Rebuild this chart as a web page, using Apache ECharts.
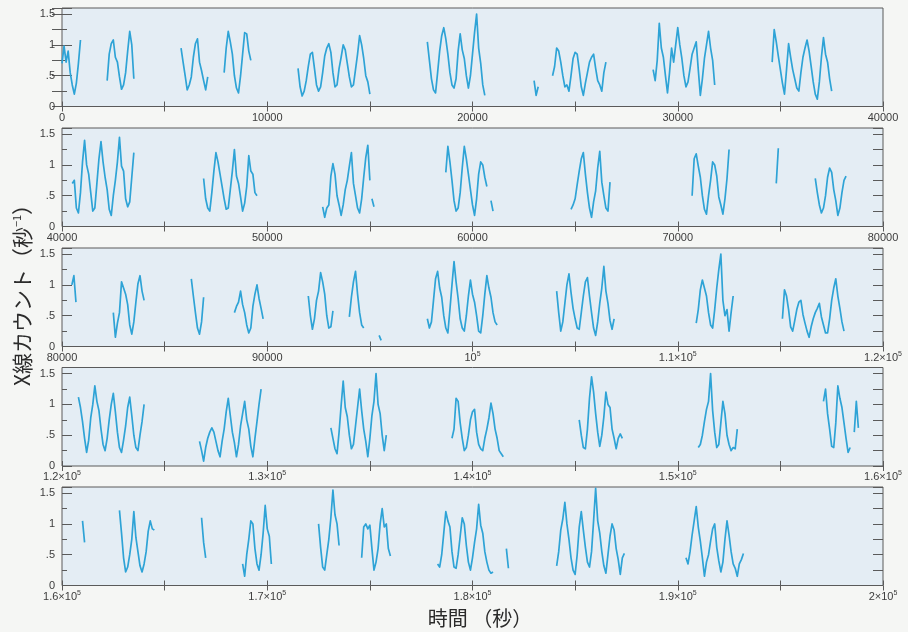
<!DOCTYPE html>
<html><head><meta charset="utf-8">
<script src="https://cdn.jsdelivr.net/npm/echarts@6/dist/echarts.min.js"></script>
<style>html,body{margin:0;padding:0;background:#f5f6f4;} #c{width:908px;height:632px;}</style>
</head><body><div id="c"></div>
<script>
// Light curve: count rate (s^-1) sampled every STEP seconds; each segment = [start time (s), values]
const STEP = 100;
const panel1 = [
  [0, [.7,.98,.72,.9,.55,.35,.2,.38,.7,1.08]],
  [2200, [.42,.85,1.02,1.08,.8,.72,.48,.28,.35,.55,.9,1.22,1.0,.45]],
  [5800, [.95,.72,.5,.27,.35,.48,.8,1.02,1.1,.72,.58,.42,.27,.48]],
  [7900, [.55,.95,1.22,1.05,.85,.5,.3,.22,.5,.85,1.2,1.18,.9,.75]],
  [11500, [.62,.32,.17,.25,.42,.65,.85,.88,.62,.35,.25,.32,.55,.82,.95,1.02,.88,.55,.32,.35,.62,.8,1.0,.92,.7,.48,.32,.35,.6,.85,1.15,1.0,.78,.5,.4,.2]],
  [17800, [1.05,.75,.45,.27,.22,.55,.9,1.15,1.28,1.1,.85,.55,.35,.3,.45,.9,1.18,.92,.78,.5,.3,.5,.85,1.2,1.5,.95,.7,.35,.18]],
  [23000, [.42,.18,.32]],
  [23900, [.5,.65,.95,.9,.72,.5,.32,.35,.25,.5,.78,.88,.85,.6,.32,.18,.38,.55,.72,.8,.85,.62,.42,.35,.25,.55,.72]],
  [28800, [.6,.42,.75,1.35,.95,.8,.5,.22,.55,.95,.72,1.0,1.28,1.0,.78,.5,.32,.4,.62,.85,.95,1.05,.6,.18,.45,.78,1.0,1.22,.95,.75,.35]],
  [34600, [.72,1.25,1.05,.82,.6,.38,.2,.6,1.02,.8,.6,.45,.3,.25,.55,.8,.95,1.08,.9,.65,.4,.2,.12,.4,.8,1.12,.85,.72,.45,.25]]
];
const panel2 = [
  [40500, [.7,.75,.3,.22,.55,1.05,1.4,1.0,.85,.55,.25,.3,.7,1.1,1.38,1.05,.8,.6,.28,.18,.5,.75,1.05,1.45,.98,.9,.45,.32,.4,.8,1.2]],
  [46900, [.78,.45,.3,.25,.55,.9,1.2,1.05,.85,.65,.45,.28,.3,.6,.9,1.25,.82,.7,.48,.25,.38,.65,1.15,.9,.85,.55,.5]],
  [52700, [.32,.15,.3,.35,.82,1.02,.85,.5,.35,.18,.35,.6,.75,.98,1.2,.7,.5,.3,.22,.45,.8,1.12,1.32,.75]],
  [55100, [.45,.32]],
  [58700, [.88,1.3,1.05,.75,.42,.25,.3,.55,.95,1.3,1.1,.85,.6,.35,.18,.45,.85,1.05,1.0,.8,.65]],
  [60900, [.42,.25]],
  [64800, [.28,.35,.45,.68,.9,1.1,1.2,.85,.55,.3,.15,.4,.58,.95,1.22,.72,.5,.3,.25,.72]],
  [70700, [.5,1.1,1.18,.98,.8,.5,.28,.2,.5,.75,1.05,1.0,.82,.48,.35,.2,.45,.78,1.25]],
  [74800, [.7,1.27]],
  [76700, [.78,.55,.35,.22,.3,.5,.8,.95,.88,.6,.42,.18,.3,.55,.75,.82]]
];
const panel3 = [
  [80480, [1.0,1.15,.72]],
  [82500, [.55,.15,.38,.55,1.05,.95,.85,.68,.35,.2,.4,.72,1.02,1.15,.9,.75]],
  [86300, [1.1,.82,.55,.3,.2,.4,.8]],
  [88400, [.55,.65,.72,.9,.68,.55,.35,.22,.3,.65,.85,1.0,.78,.62,.45]],
  [92000, [.82,.5,.28,.45,.75,.9,1.2,1.05,.85,.5,.3,.32,.58]],
  [94000, [.48,.8,1.05,1.22,.85,.55,.35,.3]],
  [95450, [.18,.1]],
  [97800, [.45,.3,.4,.75,1.1,1.22,.95,.8,.5,.3,.22,.6,1.0,1.38,1.05,.78,.45,.3,.25,.5,.82,1.08,.85,.72,.5,.25,.22,.5,.85,1.15,.95,.8,.55,.4,.35]],
  [104100, [.9,.55,.25,.4,.7,1.0,1.18,.88,.62,.45,.3,.28,.55,.82,1.05,1.12,.82,.55,.3,.18,.4,.7,.95,1.3,.9,.7,.42,.28,.45]],
  [110900, [.38,.6,.92,1.08,.95,.82,.55,.35,.3,.6,.95,1.25,1.5,.75,.5,.6,.25,.55,.82]],
  [115100, [.45,.92,.82,.6,.32,.25,.42,.6,.72,.75,.52,.38,.25,.15,.32,.45,.55,.62,.7,.48,.35,.22,.22,.45,.75,.95,1.1,.82,.62,.4,.25]]
];
const panel4 = [
  [120800, [1.12,.95,.72,.45,.22,.42,.78,1.0,1.3,1.05,.9,.6,.35,.25,.45,.75,1.0,1.18,.88,.55,.3,.22,.42,.65,.95,1.12,.82,.5,.3,.25,.5,.72,1.0]],
  [126700, [.4,.25,.08,.3,.45,.55,.62,.55,.4,.25,.15,.4,.6,.88,1.1,.82,.55,.38,.15,.35,.65,.85,1.05,.75,.6,.32,.15,.45,.72,1.0,1.25]],
  [133100, [.62,.45,.28,.2,.55,.98,1.38,.95,.8,.5,.28,.35,.65,.95,1.25,.9,.6,.4,.15,.45,.82,1.05,1.5,1.0,.85,.5,.25,.5]],
  [139000, [.45,.6,1.1,1.05,.7,.45,.25,.3,.5,.75,.88,.92,.55,.35,.28,.25,.45,.6,.78,1.02,.85,.6,.45,.25,.2,.15]],
  [145200, [.75,.5,.3,.28,.6,1.1,1.45,1.2,.85,.55,.32,.5,.8,1.2,1.0,.95,.6,.45,.28,.45,.52,.45]],
  [151000, [.3,.35,.5,.72,.92,1.05,1.5,.9,.55,.3,.35,.7,1.05,.85,.5,.35,.25,.3,.28,.6]],
  [157100, [1.05,1.25,.85,.6,.32,.3,.7,1.3,1.1,.95,.7,.45,.22,.3]],
  [158600, [.55,1.05,.62]]
];
const panel5 = [
  [161000, [1.05,.7]],
  [162800, [1.22,.85,.45,.22,.3,.5,.75,1.2,.78,.55,.32,.22,.35,.55,.88,1.05,.92,.9]],
  [166800, [1.1,.7,.45]],
  [168800, [.35,.15,.5,.75,1.05,1.0,.6,.35,.25,.5,.85,1.3,.92,.8,.35]],
  [172500, [1.0,.62,.3,.25,.5,.75,1.1,1.55,1.15,1.0,.65]],
  [174600, [.45,.95,1.0,.92,.98,.6,.25,.38,.6,1.0,1.25,.95,1.0,.6,.48]],
  [178300, [.35,.3,.5,.85,1.2,1.05,.95,.55,.3,.28,.5,.8,1.1,1.0,.65,.38,.25,.45,.7,.92,1.32,.98,.85,.55,.38,.25,.2,.22]],
  [181650, [.6,.28]],
  [184100, [.32,.55,.9,1.08,1.35,1.0,.75,.45,.25,.18,.5,.95,1.2,.9,.62,.38,.3,.55,1.05,1.58,1.05,.85,.55,.32,.2,.5,.8,1.0,.9,.6,.42,.18,.45,.52]],
  [190400, [.45,.35,.55,.82,1.05,1.28,.95,.72,.45,.15,.38,.5,.72,.92,1.0,.62,.4,.22,.38,.75,1.05,.82,.55,.35,.28,.15,.35,.42,.52]]
];
const panels = [panel1, panel2, panel3, panel4, panel5];
const panelStarts = [0, 40000, 80000, 120000, 160000];
const PANEL_SPAN = 40000;
const xTickLabels = [
  ['0', '10000', '20000', '30000', '40000'],
  ['40000', '50000', '60000', '70000', '80000'],
  ['80000', '90000', '10^5', '1.1×10^5', '1.2×10^5'],
  ['1.2×10^5', '1.3×10^5', '1.4×10^5', '1.5×10^5', '1.6×10^5'],
  ['1.6×10^5', '1.7×10^5', '1.8×10^5', '1.9×10^5', '2×10^5']
];
const yTickLabels = {'0': '0', '0.5': '.5', '1': '1', '1.5': '1.5'};
const yMax = 1.6;
const xTitle = '時間 （秒）';
const yTitle = 'X線カウント（秒{s|−1}）';

const FONT = 'Liberation Sans, Arial, sans-serif';
const CJK = '"Noto Sans CJK JP", sans-serif';
const LINE = '#2ea3d6';
const TXT = '#3c3c3c';
const tops = [8, 128, 248, 367.5, 487];
const H = 98.5;

function build(segs) {
  const out = [];
  segs.forEach(([s, vals]) => {
    vals.forEach((v, i) => out.push([s + i * STEP, v]));
    out.push([s + (vals.length - 1) * STEP + STEP / 2, null]);
  });
  return out;
}

const grid = [], xAxis = [], yAxis = [], series = [];
panels.forEach((segs, p) => {
  const t0 = panelStarts[p];
  grid.push({left: 62, right: 25, top: tops[p], height: H, show: true,
    backgroundColor: '#e4edf4', borderColor: '#5a5a5a', borderWidth: 1});
  xAxis.push({type: 'value', gridIndex: p, position: 'bottom', min: t0, max: t0 + PANEL_SPAN, interval: 5000,
    axisLine: {show: false}, splitLine: {show: false},
    axisTick: {inside: true, length: 5, lineStyle: {color: '#5a5a5a'}},
    axisLabel: {margin: 4, color: TXT, fontFamily: FONT, fontSize: 11, lineHeight: 14,
      showMinLabel: true, showMaxLabel: true,
      formatter: v => {
        const k = (v - t0) / 10000;
        if (Math.abs(k - Math.round(k)) > 1e-6) return '';
        return xTickLabels[p][Math.round(k)].replace('^5', '{s|5}');
      },
      rich: {s: {fontSize: 7, lineHeight: 7, verticalAlign: 'top', color: TXT, fontFamily: FONT}}}});
  xAxis.push({type: 'value', gridIndex: p, position: 'top', min: t0, max: t0 + PANEL_SPAN, interval: 5000,
    axisLine: {show: false}, splitLine: {show: false}, axisLabel: {show: false},
    axisTick: {inside: true, length: 5, lineStyle: {color: '#5a5a5a'}}});
  yAxis.push({type: 'value', gridIndex: p, position: 'left', min: 0, max: yMax, interval: 0.5,
    axisLine: {show: false}, splitLine: {show: false},
    axisTick: {inside: true, length: 10, lineStyle: {color: '#5a5a5a'}},
    minorTick: {show: true, splitNumber: 2, length: 5, lineStyle: {color: '#5a5a5a'}},
    axisLabel: {margin: 7, color: TXT, fontFamily: FONT, fontSize: 11,
      formatter: v => yTickLabels[String(Math.round(v * 100) / 100)] || ''}});
  yAxis.push({type: 'value', gridIndex: p, position: 'right', min: 0, max: yMax, interval: 0.25,
    axisLine: {show: false}, splitLine: {show: false}, axisLabel: {show: false},
    axisTick: {inside: true, length: 10, lineStyle: {color: '#5a5a5a'}}});
  series.push({type: 'line', xAxisIndex: 2 * p, yAxisIndex: 2 * p, data: build(segs),
    showSymbol: false, connectNulls: false, clip: true,
    lineStyle: {color: LINE, width: 1.7, join: 'round'}, itemStyle: {color: LINE}});
});

const chart = echarts.init(document.getElementById('c'), null, {renderer: 'canvas'});
chart.setOption({
  backgroundColor: '#f5f6f4',
  animation: false,
  grid, xAxis, yAxis, series,
  graphic: [
    {type: 'text', x: 480, y: 618, style: {text: xTitle, font: '20px ' + CJK, fill: '#2b2b2b', align: 'center', verticalAlign: 'middle'}},
    {type: 'text', x: 22, y: 290, rotation: Math.PI / 2,
      style: {text: yTitle, font: '21px ' + CJK, fill: '#2b2b2b', align: 'center', verticalAlign: 'middle',
        rich: {s: {fontSize: 11, lineHeight: 12, verticalAlign: 'top', fontFamily: CJK, fill: '#2b2b2b'}}}}
  ]
});
</script>
</body></html>
